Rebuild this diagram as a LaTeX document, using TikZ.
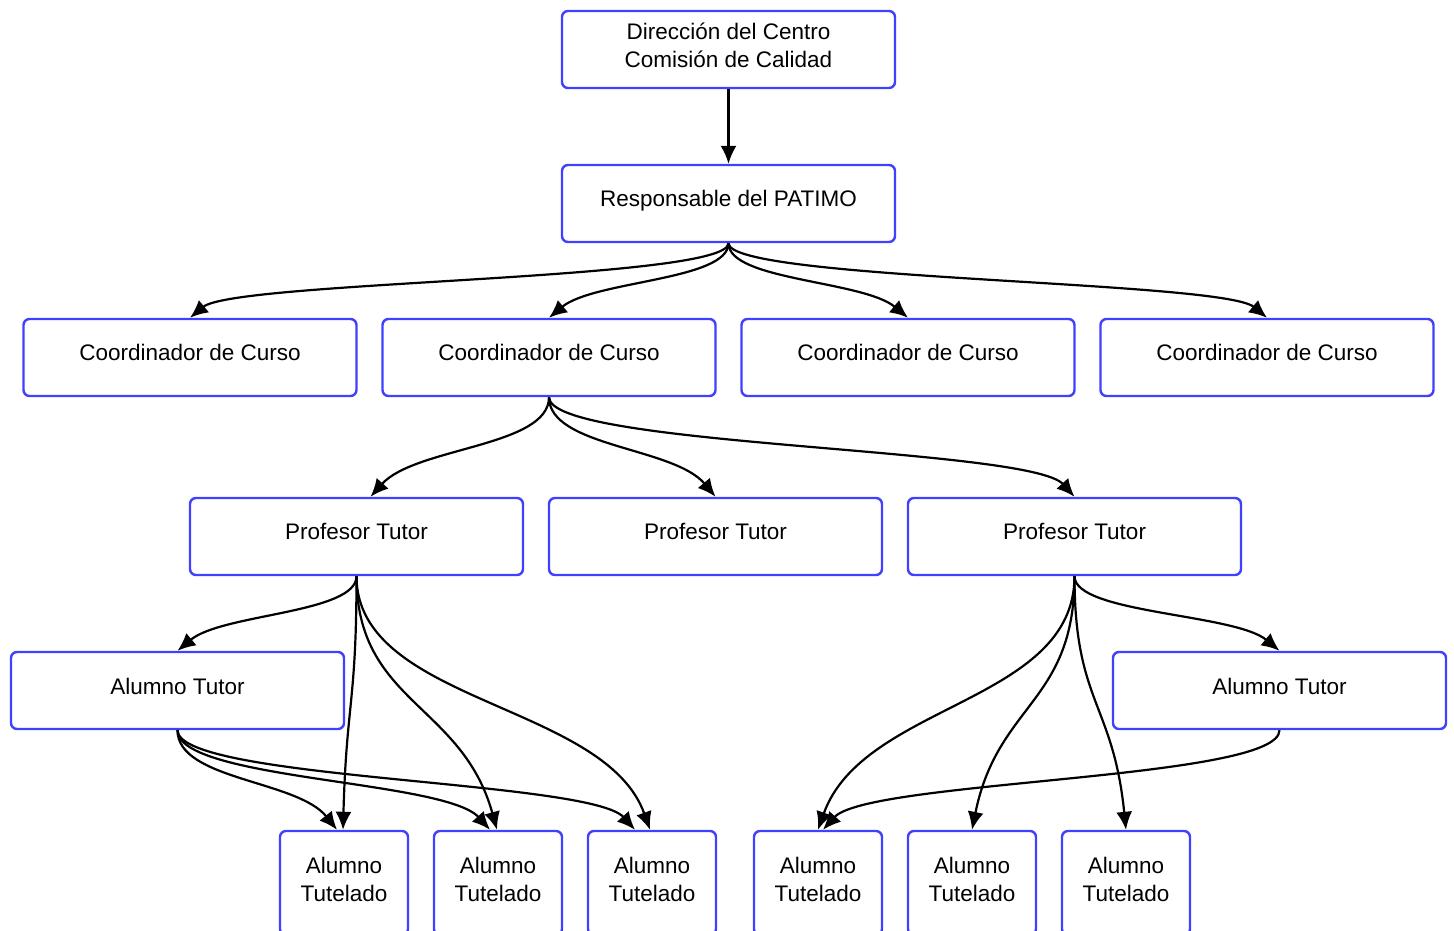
\documentclass[tikz,border=0pt]{standalone}
\usepackage{fontspec}
\setmainfont{Liberation Sans}
\usetikzlibrary{arrows.meta,calc}
\definecolor{boxblue}{RGB}{64,64,255}
\tikzset{
  box/.style={draw=boxblue, line width=2.4pt, rounded corners=6pt, fill=white,
    inner sep=0pt, minimum width=333pt, minimum height=77pt, align=center,
    text height=17pt, text depth=10pt, font=\fontsize{22.5}{28}\selectfont},
  twoline/.style={text height=45pt, text depth=8pt},
  tutbox/.style={box, twoline, minimum width=128pt, minimum height=104pt},
  link/.style={line width=2.2pt, -{Latex[length=18pt,width=16pt]}},
  curve/.style={to path={let \p1=(\tikztostart), \p2=(\tikztotarget),
    \n1={max(-45pt,min(45pt,0.25*(\x1-\x2)))} in
    .. controls (\x1,{0.5*(\y1+\y2)}) and ({\x2+\n1},{0.5*(\y1+\y2)}) .. (\p2) \tikztonodes}}
}
\begin{document}
\begin{tikzpicture}[x=1pt,y=1pt]
\useasboundingbox (0,0) rectangle (1454,930);
% levels
\node[box,twoline] (dir) at (728.5,880.5) {Dirección del Centro\\Comisión de Calidad};
\node[box] (resp) at (728.5,726.5) {Responsable del PATIMO};
\foreach \k/\xx in {c1/190,c2/549,c3/908,c4/1267}
  \node[box] (\k) at (\xx,572.5) {Coordinador de Curso};
\foreach \k/\xx in {p1/356.5,p2/715.5,p3/1074.5}
  \node[box] (\k) at (\xx,393.5) {Profesor Tutor};
\node[box] (at1) at (177.5,239.5) {Alumno Tutor};
\node[box] (at2) at (1279.5,239.5) {Alumno Tutor};
\foreach \k/\xx in {t1/344,t2/498,t3/652,t4/818,t5/972,t6/1126}
  \node[tutbox] (\k) at (\xx,47) {Alumno\\Tutelado};
% connectors
\draw[link] (dir.south) -- (resp.north);
\foreach \k in {c1,c2,c3,c4}
  \draw[link] (resp.south) to[curve] (\k.north);
\draw[link] (c2.south) to[curve] ([xshift=14pt]p1.north);
\draw[link] (c2.south) to[curve] (p2.north);
\draw[link] (c2.south) to[curve] (p3.north);
\draw[link] (p1.south) to[curve] (at1.north);
\foreach \k/\d in {t1/-1,t2/-1,t3/-2}
  \draw[link] (p1.south) to[curve] ([xshift=\d pt]\k.north);
\foreach \k/\d in {t1/-7,t2/-8,t3/-17}
  \draw[link] (at1.south) to[curve] ([xshift=\d pt]\k.north);
\foreach \k in {t4,t5,t6}
  \draw[link] (p3.south) to[curve] (\k.north);
\draw[link] (p3.south) to[curve] (at2.north);
\draw[link] (at2.south) to[curve] ([xshift=5pt]t4.north);
\end{tikzpicture}
\end{document}
